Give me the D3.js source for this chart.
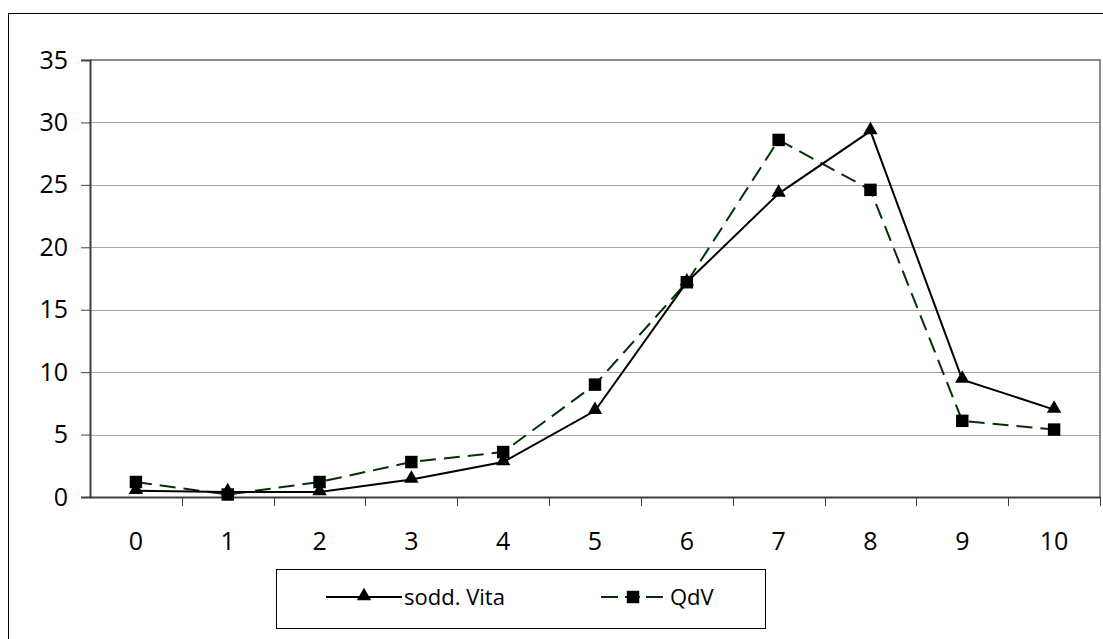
<!DOCTYPE html>
<html>
<head>
<meta charset="utf-8">
<script src="https://cdn.jsdelivr.net/npm/d3@7"></script>
<style>
  body { margin: 0; background: #fff; }
  svg { display: block; font-family: "Open Sans", Tahoma, sans-serif; }
</style>
</head>
<body>
<div id="chart"></div>
<script>
const categories = ["0", "1", "2", "3", "4", "5", "6", "7", "8", "9", "10"];
const vita = [0.5, 0.4, 0.4, 1.4, 2.8, 6.9, 17.2, 24.3, 29.3, 9.4, 7.0];
const qdv = [1.2, 0.2, 1.2, 2.8, 3.6, 9.0, 17.2, 28.6, 24.6, 6.1, 5.4];
const yTicks = [0, 5, 10, 15, 20, 25, 30, 35];
const seriesNames = ["sodd. Vita", "QdV"];

const width = 1103;
const height = 639;
const margin = {top: 60, right: 3, bottom: 142, left: 90};

const svg = d3.select("#chart")
  .append("svg")
  .attr("width", width)
  .attr("height", height);

// outer chart frame (runs off the right/bottom)
svg.append("rect")
  .attr("x", 8.5).attr("y", 13.5)
  .attr("width", width + 20).attr("height", height + 20)
  .attr("fill", "none").attr("stroke", "#000");

const x = d3.scaleBand()
  .domain(categories)
  .range([margin.left, width - margin.right]);

const y = d3.scaleLinear()
  .domain([0, 35])
  .range([height - margin.bottom, margin.top]);

// grid
svg.append("g")
  .selectAll("line")
  .data(yTicks.slice(1))
  .enter()
  .append("line")
  .attr("x1", margin.left).attr("x2", width - margin.right)
  .attr("y1", d => Math.round(y(d)) + 0.5).attr("y2", d => Math.round(y(d)) + 0.5)
  .attr("stroke", "#a6a6a6");

// plot area frame top/right
svg.append("path")
  .attr("d", `M${margin.left},${margin.top}H${width - margin.right}V${y(0)}`)
  .attr("fill", "none")
  .attr("stroke", "#8c8c8c")
  .attr("stroke-width", 2);

// y axis
const yAxis = svg.append("g")
  .attr("transform", `translate(${margin.left},0)`)
  .call(d3.axisLeft(y).tickValues(yTicks).tickSize(9).tickPadding(13).tickFormat(d3.format("d")));
yAxis.select(".domain").attr("stroke", "#404040").attr("stroke-width", 2);
yAxis.selectAll(".tick line").attr("stroke", "#404040");
yAxis.selectAll("text").attr("font-size", 25).attr("fill", "#000")
  .attr("font-family", "Open Sans");

// x axis
const xAxis = svg.append("g")
  .attr("transform", `translate(0,${y(0)})`)
  .call(d3.axisBottom(x).tickSize(0).tickPadding(35));
xAxis.select(".domain").attr("stroke", "#404040").attr("stroke-width", 2);
xAxis.selectAll("text").attr("font-size", 25).attr("fill", "#000")
  .attr("font-family", "Open Sans");
xAxis.selectAll(".sep")
  .data(categories.slice(1).concat(["end"]))
  .enter()
  .append("line")
  .attr("class", "sep")
  .attr("x1", (d, i) => Math.round(margin.left + x.step() * (i + 1)) + 0.5)
  .attr("x2", (d, i) => Math.round(margin.left + x.step() * (i + 1)) + 0.5)
  .attr("y1", 0).attr("y2", 9)
  .attr("stroke", "#404040");

const cx = d => x(d) + x.bandwidth() / 2;
const line = d3.line()
  .x((d, i) => cx(categories[i]))
  .y(d => y(d));

const tri = d3.symbol().type(d3.symbolTriangle).size(90);
const sq = d3.symbol().type(d3.symbolSquare).size(155);

// QdV
svg.append("path")
  .datum(qdv)
  .attr("d", line)
  .attr("fill", "none")
  .attr("stroke", "#003300")
  .attr("stroke-width", 2)
  .attr("stroke-dasharray", "16,8");

// sodd. Vita
svg.append("path")
  .datum(vita)
  .attr("d", line)
  .attr("fill", "none")
  .attr("stroke", "#000")
  .attr("stroke-width", 2);

svg.append("g")
  .selectAll("path")
  .data(qdv)
  .enter()
  .append("path")
  .attr("d", sq)
  .attr("transform", (d, i) => `translate(${cx(categories[i])},${y(d)})`)
  .attr("fill", "#000");

svg.append("g")
  .selectAll("path")
  .data(vita)
  .enter()
  .append("path")
  .attr("d", tri)
  .attr("transform", (d, i) => `translate(${cx(categories[i])},${y(d) - 1})`)
  .attr("fill", "#000");

// legend
const legend = svg.append("g");
legend.append("rect")
  .attr("x", 276.5).attr("y", 569.5)
  .attr("width", 489).attr("height", 59)
  .attr("fill", "#fff").attr("stroke", "#000");

legend.append("line")
  .attr("x1", 326).attr("x2", 402).attr("y1", 597).attr("y2", 597)
  .attr("stroke", "#000").attr("stroke-width", 2);
legend.append("path").attr("d", tri).attr("transform", "translate(364,596)");
legend.append("text").attr("x", 404).attr("y", 605)
  .attr("font-size", 22).text(seriesNames[0]);

// dashed sample: dash, marker, dash
[[601, 618], [646, 663]].forEach(s => {
  legend.append("line")
    .attr("x1", s[0]).attr("x2", s[1]).attr("y1", 597).attr("y2", 597)
    .attr("stroke", "#003300").attr("stroke-width", 2);
});
legend.append("line")
  .attr("x1", 625).attr("x2", 640).attr("y1", 597).attr("y2", 597)
  .attr("stroke", "#003300").attr("stroke-width", 2);
legend.append("path").attr("d", sq).attr("transform", "translate(633,597)");
legend.append("text").attr("x", 670).attr("y", 605)
  .attr("font-size", 22).text(seriesNames[1]);
</script>
</body>
</html>
